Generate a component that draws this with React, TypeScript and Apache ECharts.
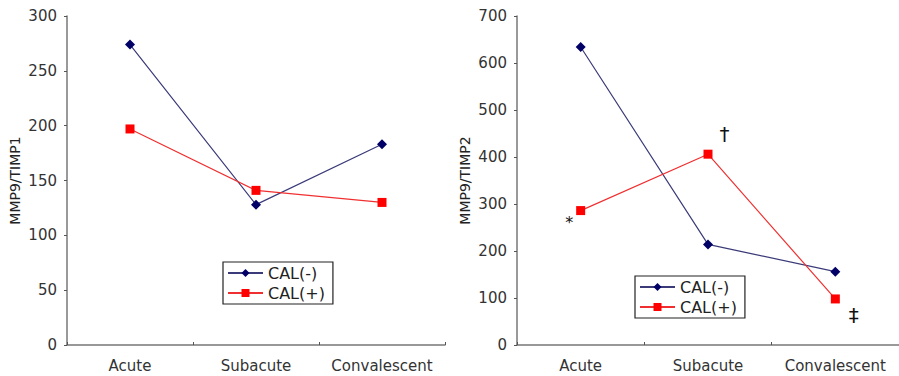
import React, { useEffect, useRef } from "react";
import * as echarts from "echarts";

const categories = ["Acute", "Subacute", "Convalescent"];
const timp1Neg = [274, 128, 183];
const timp1Pos = [197, 141, 130];
const timp2Neg = [634, 214, 156];
const timp2Pos = [286, 406, 98];
const timp2PosMarks = ["*", "†", "‡"];
const yTicks1 = { min: 0, max: 300, interval: 50 };
const yTicks2 = { min: 0, max: 700, interval: 100 };

const FONT = "DejaVu Sans";
const NAVY = "#000066";
const NAVY_LINE = "#3b3b7a";
const RED = "#ff0000";
const RED_LINE = "#f03030";

export default function App() {
  const ref = useRef<HTMLDivElement>(null);
  useEffect(() => {
    if (!ref.current) return;
    const chart = echarts.init(ref.current, undefined, { renderer: "svg" });
    const markOffsets: any[] = [
      { position: "left", offset: [2, 12] },
      { position: "right", offset: [2, -20] },
      { position: "right", offset: [4, 16] },
    ];
    const xAxisBase = (gridIndex: number) => ({
      type: "category",
      gridIndex,
      data: categories,
      boundaryGap: true,
      axisLine: { lineStyle: { color: "#777", width: 1.5 } },
      axisTick: { show: true, inside: true, length: 3, lineStyle: { color: "#555" } },
      axisLabel: {
        color: "#333",
        fontFamily: FONT,
        fontSize: 15,
        margin: 13,
        interval: 0,
        hideOverlap: false,
      },
    });
    const yAxisBase = (gridIndex: number, t: any, name: string) => ({
      type: "value",
      gridIndex,
      min: t.min,
      max: t.max,
      interval: t.interval,
      name,
      nameLocation: "middle",
      nameRotate: 90,
      nameGap: 45,
      nameTextStyle: { color: "#222", fontFamily: FONT, fontSize: 14 },
      splitLine: { show: false },
      axisLine: { show: true, lineStyle: { color: "#777", width: 1.5 } },
      axisTick: { show: true, length: 3, lineStyle: { color: "#555" } },
      axisLabel: { color: "#333", fontFamily: FONT, fontSize: 15, margin: 10 },
    });
    const negSeries = (idx: number, data: number[]) => ({
      name: "CAL(-)",
      type: "line",
      xAxisIndex: idx,
      yAxisIndex: idx,
      data,
      symbol: "diamond",
      symbolSize: 10,
      itemStyle: { color: NAVY },
      lineStyle: { color: NAVY_LINE, width: 1.2 },
    });
    const posSeries = (idx: number, data: any[]) => ({
      name: "CAL(+)",
      type: "line",
      xAxisIndex: idx,
      yAxisIndex: idx,
      data,
      symbol: "rect",
      symbolSize: 9,
      itemStyle: { color: RED },
      lineStyle: { color: RED_LINE, width: 1.2 },
    });
    const legendBase = (left: number, top: number) => ({
      left,
      top,
      orient: "vertical",
      data: ["CAL(-)", "CAL(+)"],
      itemWidth: 35,
      itemHeight: 10,
      itemGap: 4,
      padding: [3, 8, 3, 4],
      borderColor: "#222",
      borderWidth: 1.2,
      textStyle: { color: "#222", fontFamily: FONT, fontSize: 16 },
    });
    chart.setOption({
      animation: false,
      backgroundColor: "#fff",
      grid: [
        { left: 67, right: 454, top: 16, bottom: 31 },
        { left: 517, right: -7, top: 16, bottom: 31 },
      ],
      xAxis: [xAxisBase(0), xAxisBase(1)],
      yAxis: [yAxisBase(0, yTicks1, "MMP9/TIMP1"), yAxisBase(1, yTicks2, "MMP9/TIMP2")],
      legend: [legendBase(223, 262), legendBase(635, 276)],
      series: [
        negSeries(0, timp1Neg),
        posSeries(0, timp1Pos),
        negSeries(1, timp2Neg),
        posSeries(
          1,
          timp2Pos.map((v, i) => ({
            value: v,
            label: {
              show: true,
              formatter: timp2PosMarks[i],
              color: "#111",
              fontFamily: FONT,
              fontSize: i === 0 ? 16 : 20,
              ...markOffsets[i],
            },
          }))
        ),
      ],
    });
    return () => chart.dispose();
  }, []);
  return <div ref={ref} style={{ width: 899, height: 376, position: "absolute", left: 0, top: 0 }} />;
}
